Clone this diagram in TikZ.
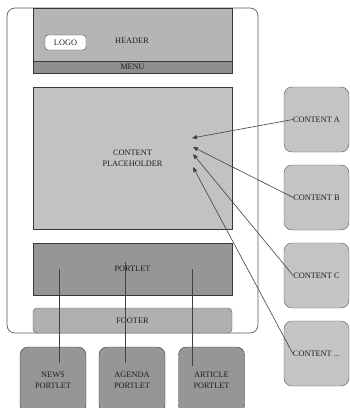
\documentclass[tikz,border=0pt]{standalone}
\usepackage{fontspec}
\setmainfont{Liberation Serif}
\usetikzlibrary{arrows.meta}
\definecolor{framegray}{RGB}{90,90,90}
\definecolor{boxline}{RGB}{55,55,55}
\definecolor{wiregray}{RGB}{65,65,65}
\definecolor{textgray}{RGB}{30,30,30}
\definecolor{headgray}{RGB}{181,181,181}
\definecolor{menugray}{RGB}{143,143,143}
\definecolor{placegray}{RGB}{194,194,194}
\definecolor{portgray}{RGB}{150,150,150}
\definecolor{footgray}{RGB}{176,176,176}
\definecolor{contgray}{RGB}{196,196,196}
\begin{document}
\begin{tikzpicture}[x=1pt,y=-1pt,font=\fontsize{8.3}{11}\selectfont]

  \clip (0,0) rectangle (350,408);

  % page frame
  \node[draw=framegray, line width=0.7pt, fill=white, rounded corners=8pt, minimum width=251pt, minimum height=325pt] (page) at (132.5,170.5) {};

  \begin{scope}[every node/.style={draw=boxline, inner sep=0pt, text=textgray, align=center}]
    \node[fill=headgray, minimum width=199pt, minimum height=53pt] (header) at (132.5,34.5) {};
    \node[fill=menugray, minimum width=199pt, minimum height=12pt] (menu) at (132.5,67) {MENU};
    \node[fill=white, rounded corners=3pt, minimum width=41pt, minimum height=15pt] (logo) at (65.5,42.5) {LOGO};
    \node[fill=placegray, minimum width=199pt, minimum height=142pt] (place) at (132.5,158) {CONTENT\\PLACEHOLDER};
    \node[fill=portgray, minimum width=199pt, minimum height=52pt] (portlet) at (132.5,269) {PORTLET};
    \node[fill=footgray, draw=framegray, rounded corners=4pt, minimum width=199pt, minimum height=25pt] (footer) at (132.5,320.5) {FOOTER};

    % portlets below
    \node[fill=portgray, rounded corners=8pt, minimum width=66pt, minimum height=66pt] (news) at (53,380) {NEWS\\PORTLET};
    \node[fill=portgray, rounded corners=8pt, minimum width=66pt, minimum height=66pt] (agenda) at (132,380) {AGENDA\\PORTLET};
    \node[fill=portgray, rounded corners=8pt, minimum width=66pt, minimum height=66pt] (article) at (211.5,380) {ARTICLE\\PORTLET};

    % content boxes
    \node[fill=contgray, draw=framegray, rounded corners=8pt, minimum width=65pt, minimum height=65pt] (contA) at (316.5,119.5) {};
    \node[fill=contgray, draw=framegray, rounded corners=8pt, minimum width=65pt, minimum height=65pt] (contB) at (316.5,197.5) {};
    \node[fill=contgray, draw=framegray, rounded corners=8pt, minimum width=65pt, minimum height=65pt] (contC) at (316.5,275.5) {};
    \node[fill=contgray, draw=framegray, rounded corners=8pt, minimum width=65pt, minimum height=65pt] (contD) at (316.5,353.5) {};
  \end{scope}

  \begin{scope}[every node/.style={inner sep=0pt, text=textgray}]
    \node (headtext) at (132,41) {HEADER};
    \node (labA) at (contA) {CONTENT A};
    \node (labB) at (contB) {CONTENT B};
    \node (labC) at (contC) {CONTENT C};
    \node (labD) at (contD) {CONTENT ...};
  \end{scope}

  % arrow tips in the placeholder
  \coordinate (tipA) at (192,138);
  \coordinate (tipB) at (193,147);
  \coordinate (tipC) at (193,154);
  \coordinate (tipD) at (193,167);

  % ends of the portlet wires
  \coordinate (newsIn) at (59,269);
  \coordinate (newsOut) at (59,363);
  \coordinate (agendaIn) at (125,262);
  \coordinate (agendaOut) at (125,363);
  \coordinate (articleIn) at (192,269);
  \coordinate (articleOut) at (192,366);

  \begin{scope}[every path/.style={draw=wiregray, line width=0.6pt}]
    \path[-{Triangle[length=5pt,width=4pt]}] (labA.west) -- (tipA);
    \path[-{Triangle[length=5pt,width=4pt]}] (labB.west) -- (tipB);
    \path[-{Triangle[length=5pt,width=4pt]}] (labC.west) -- (tipC);
    \path[-{Triangle[length=5pt,width=4pt]}] (labD.west) -- (tipD);
    \path (newsIn) -- (newsOut);
    \path (agendaIn) -- (agendaOut);
    \path (articleIn) -- (articleOut);
  \end{scope}

\end{tikzpicture}
\end{document}
